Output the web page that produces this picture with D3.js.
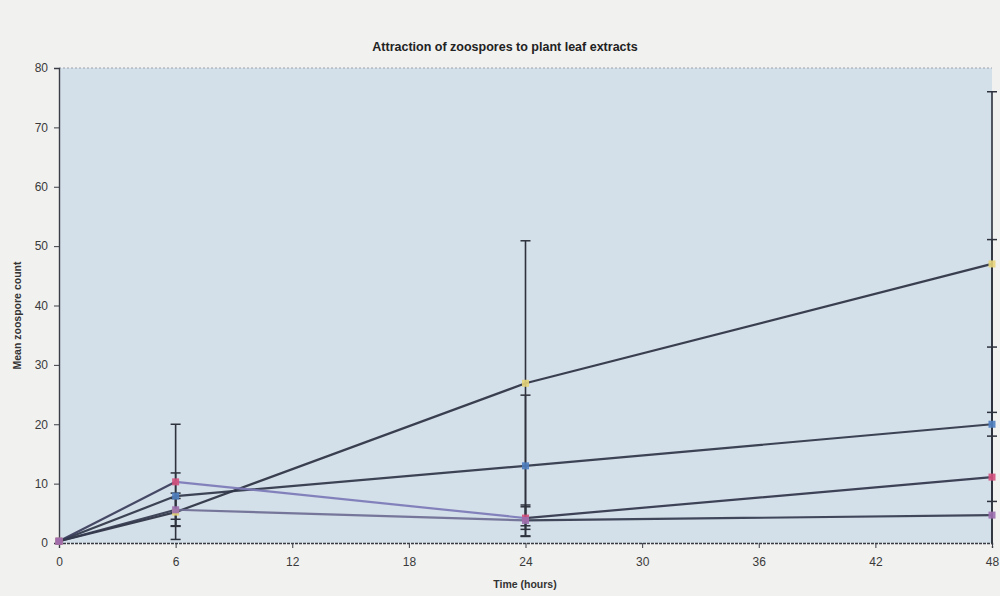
<!DOCTYPE html>
<html>
<head>
<meta charset="utf-8">
<script src="https://cdn.jsdelivr.net/npm/d3@7"></script>
<style>
  html, body { margin: 0; padding: 0; background: #f1f1f0; }
  svg { display: block; }
  text { font-family: "Liberation Sans", Arial, sans-serif; }
</style>
</head>
<body>
<svg id="chart" width="1000" height="596"></svg>
<script>
// Sampling times (hours)
const hours = [0, 6, 24, 48];

// Mean zoospore counts for each extract
const seriesA = [0.3, 5.2, 26.9, 47];
const seriesB = [0.3, 7.9, 13, 20];
const seriesC = [0.3, 10.3, 4.2, 11.1];
const seriesD = [0.3, 5.6, 3.8, 4.7];

// Error bar half-widths
const errA = [0, 2.3, 24, 29];
const errB = [0, 3.9, 11.9, 13];
const errC = [0, 9.7, 1.9, 40];
const errD = [0, 2.8, 2.6, 17.3];

const xTicks = [0, 6, 12, 18, 24, 30, 36, 42, 48];
const yTicks = [0, 10, 20, 30, 40, 50, 60, 70, 80];

// Stroke colour of each segment (0-6, 6-24, 24-48)
const series = [
  { values: seriesA, errs: errA, segs: ["#2c3142", "#2c3142", "#2c3142"], marker: "#e6d47a" },
  { values: seriesB, errs: errB, segs: ["#2f3547", "#2f3547", "#2f3547"], marker: "#4f7fc0" },
  { values: seriesC, errs: errC, segs: ["#3a3c5a", "#7c78b6", "#30344a"], marker: "#d4507c" },
  { values: seriesD, errs: errD, segs: ["#343a4e", "#6e6d92", "#343a4e"], marker: "#9c6fae" }
];

const svg = d3.select("#chart");
const plotLeft = 59, plotRight = 992, plotTop = 68, plotBottom = 543;

const x = d3.scaleLinear().domain([0, 48]).range([plotLeft, plotRight]);
const y = d3.scaleLinear().domain([0, 80]).range([plotBottom, plotTop]);

// Plot area
svg.append("rect")
  .attr("x", plotLeft).attr("y", plotTop)
  .attr("width", plotRight - plotLeft).attr("height", plotBottom - plotTop)
  .attr("fill", "#d3dfe9");

// Dotted top border
svg.append("line")
  .attr("x1", plotLeft).attr("x2", plotRight).attr("y1", plotTop).attr("y2", plotTop)
  .attr("stroke", "#9aa3ad").attr("stroke-width", 1).attr("stroke-dasharray", "2,2");

// Title
svg.append("text")
  .attr("x", 505).attr("y", 51)
  .attr("text-anchor", "middle")
  .attr("font-size", 12.5).attr("font-weight", "bold").attr("fill", "#222")
  .text("Attraction of zoospores to plant leaf extracts");

// Axes
const yAxis = d3.axisLeft(y).tickValues(yTicks).tickSize(5).tickPadding(6);
const xAxis = d3.axisBottom(x).tickValues(xTicks).tickSize(5).tickPadding(9);

const gy = svg.append("g").attr("transform", `translate(${plotLeft},0)`).call(yAxis);
const gx = svg.append("g").attr("transform", `translate(0,${plotBottom})`).call(xAxis);

[gx, gy].forEach(g => {
  g.select(".domain").attr("stroke", "#3a3d45").attr("stroke-width", 1.4);
  g.selectAll(".tick line").attr("stroke", "#3a3d45");
  g.selectAll(".tick text").attr("fill", "#3a3a3a").attr("font-size", 12)
    .attr("font-family", "'Liberation Sans', Arial, sans-serif");
});
gx.select(".domain").attr("stroke-dasharray", "3,1");

// Axis titles
svg.append("text")
  .attr("x", 525).attr("y", 588)
  .attr("text-anchor", "middle")
  .attr("font-size", 10.5).attr("font-weight", "bold").attr("fill", "#333")
  .text("Time (hours)");

svg.append("text")
  .attr("transform", `translate(21,${(plotTop + plotBottom) / 2 + 10}) rotate(-90)`)
  .attr("text-anchor", "middle")
  .attr("font-size", 10.5).attr("font-weight", "bold").attr("fill", "#333")
  .text("Mean zoospore count");

const plot = svg.append("g");

// Error bars (clipped to the axis range)
series.forEach(s => {
  s.values.forEach((v, i) => {
    const e = s.errs[i];
    if (!e) return;
    const hi = Math.min(v + e, 80), lo = Math.max(v - e, 0);
    const cx = x(hours[i]);
    plot.append("line")
      .attr("x1", cx).attr("x2", cx).attr("y1", y(hi)).attr("y2", y(lo))
      .attr("stroke", "#2e323c").attr("stroke-width", 1.6);
    if (v + e <= 80) {
      plot.append("line")
        .attr("x1", cx - 5).attr("x2", cx + 5).attr("y1", y(v + e)).attr("y2", y(v + e))
        .attr("stroke", "#2e323c").attr("stroke-width", 1.5);
    }
    if (v - e >= 0) {
      plot.append("line")
        .attr("x1", cx - 5).attr("x2", cx + 5).attr("y1", y(v - e)).attr("y2", y(v - e))
        .attr("stroke", "#2e323c").attr("stroke-width", 1.5);
    }
  });
});

// Lines, drawn segment by segment
const lineGen = d3.line().x(d => x(d[0])).y(d => y(d[1]));
series.forEach(s => {
  s.segs.forEach((col, i) => {
    plot.append("path")
      .attr("d", lineGen([[hours[i], s.values[i]], [hours[i + 1], s.values[i + 1]]]))
      .attr("fill", "none")
      .attr("stroke", col)
      .attr("stroke-width", 2.2)
      .attr("stroke-linecap", "round")
      .attr("opacity", 0.92);
  });
});

// Markers
series.forEach(s => {
  plot.selectAll(null)
    .data(s.values)
    .join("rect")
    .attr("x", (d, i) => x(hours[i]) - 3.5)
    .attr("y", d => y(d) - 3.5)
    .attr("width", 7).attr("height", 7)
    .attr("fill", s.marker)
    .attr("opacity", 0.9);
});
</script>
</body>
</html>
